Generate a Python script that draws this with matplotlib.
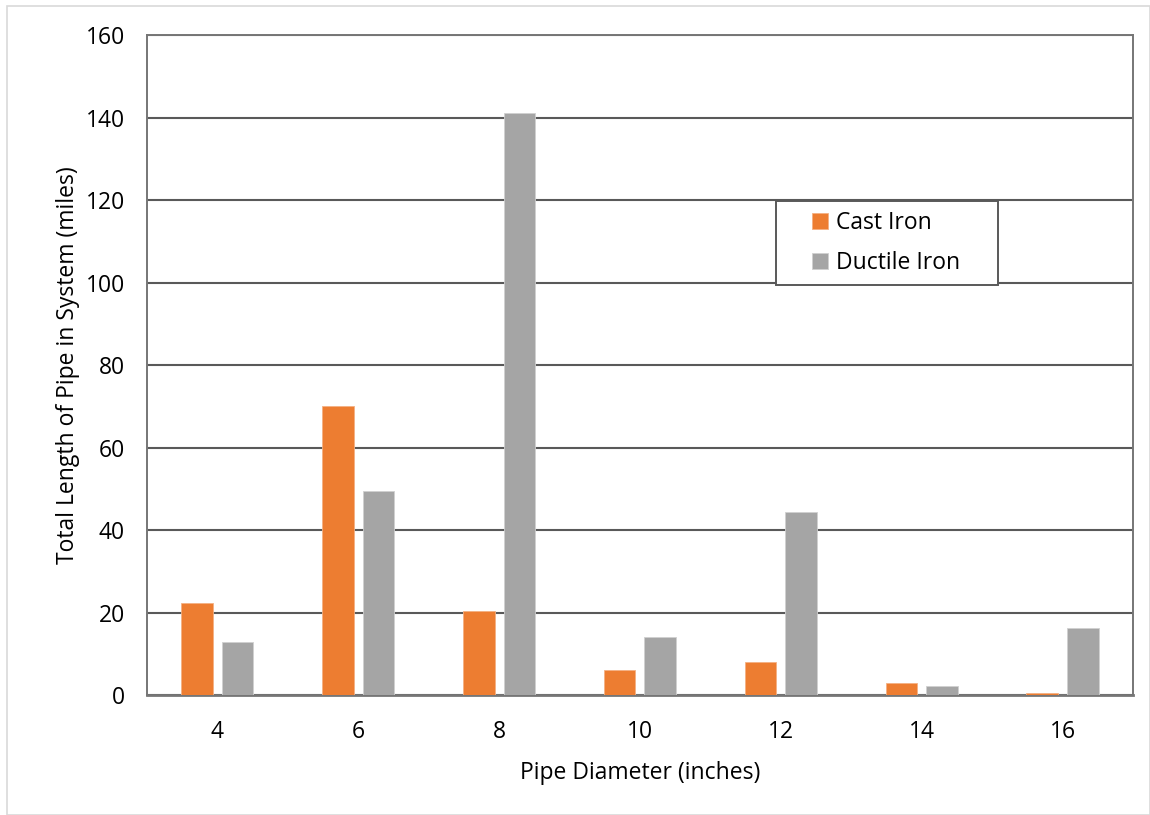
import numpy as np
import matplotlib.pyplot as plt
from matplotlib.patches import Rectangle

diameters = ['4', '6', '8', '10', '12', '14', '16']
cast_iron = [22.3, 70.2, 20.3, 6.1, 8.0, 2.9, 0.5]
ductile_iron = [12.8, 49.4, 141.1, 14.1, 44.5, 2.3, 16.2]

plt.rcParams['font.family'] = ['Open Sans', 'DejaVu Sans']
FS = 16.5

fig = plt.figure(figsize=(11.5, 8.15), dpi=100)
ax = fig.add_axes([0.1278, 0.147, 0.8574, 0.810])

# light outer border of the picture
fig.patches.append(Rectangle((0.006, 0.0), 0.994, 0.993, transform=fig.transFigure,
                             fill=False, edgecolor='#d9d9d9', lw=1.2))

x = np.arange(len(diameters))
w = 0.224
off = 0.144
ax.bar(x - off, cast_iron, width=w, color='#ED7D31', edgecolor='#f4b183', lw=0.6,
       label='Cast Iron', zorder=3)
ax.bar(x + off, ductile_iron, width=w, color='#A5A5A5', edgecolor='#d0d0d0', lw=0.6,
       label='Ductile Iron', zorder=3)

ax.set_xlim(-0.5, len(diameters) - 0.5)
ax.set_ylim(0, 160)
ax.set_yticks(np.arange(0, 161, 20))
ax.set_xticks(x)
ax.set_xticklabels(diameters)
ax.tick_params(length=0, labelsize=FS, pad=18)
ax.tick_params(axis='y', pad=16)

ax.grid(axis='y', color='#595959', lw=1.5, zorder=0)
for s in ax.spines.values():
    s.set_color('#767676')
    s.set_linewidth(1.4)
ax.spines['bottom'].set_linewidth(2.0)

ax.set_xlabel('Pipe Diameter (inches)', fontsize=FS, labelpad=12)
ax.set_ylabel('Total Length of Pipe in System (miles)', fontsize=FS, labelpad=4)

# legend box drawn as a patch, entries placed inside it
ax.add_patch(Rectangle((0.638, 0.622), 0.225, 0.126, transform=ax.transAxes,
                       facecolor='white', edgecolor='#595959', lw=1.4, zorder=4))
leg = ax.legend(loc='center left', bbox_to_anchor=(0.674, 0.685), borderaxespad=0,
                fontsize=FS, handlelength=0.7, handleheight=0.7, handletextpad=0.35,
                labelspacing=0.7, borderpad=0, frameon=False)
leg.set_zorder(5)

plt.savefig('out.png', dpi=100)
